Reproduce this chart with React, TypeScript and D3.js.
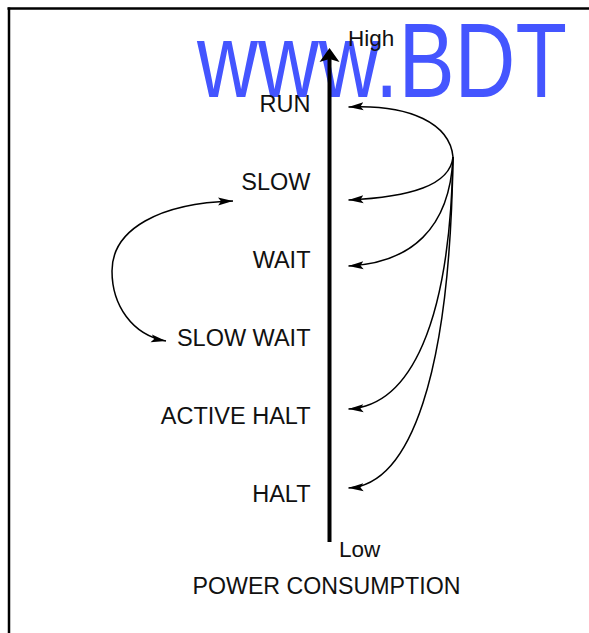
import React, { useRef, useEffect } from "react";
import * as d3 from "d3";

// power modes, from highest to lowest consumption
const modes = ["RUN", "SLOW", "WAIT", "SLOW WAIT", "ACTIVE HALT", "HALT"];
// transitions leaving RUN, and where each arrow lands relative to its label
const runTargets = ["RUN", "SLOW", "WAIT", "ACTIVE HALT", "HALT"];
const runTargetOffsets = [3, 18, 6, -7, -6];
// two-way transition on the left side
const sideLink = ["SLOW WAIT", "SLOW"];
const axisLabels = ["High", "Low"];
const axisTitle = "POWER CONSUMPTION";
const watermark = "www.BDT";

function App() {
  const svgRef = useRef<SVGSVGElement>(null);

  useEffect(() => {
    d3.select(svgRef.current).selectAll("*").remove();
    const width = 589;
    const height = 633;
    const font = "'Liberation Sans', Arial, Helvetica, sans-serif";
    const svg = d3.select(svgRef.current)
      .attr("width", width)
      .attr("height", height);

    // arrow markers
    const defs = svg.append("defs");
    const mk = (id, orient) => defs.append("marker")
      .attr("id", id)
      .attr("markerUnits", "userSpaceOnUse")
      .attr("viewBox", "0 -5 16 10")
      .attr("markerWidth", 16)
      .attr("markerHeight", 10)
      .attr("refX", 15)
      .attr("refY", 0)
      .attr("orient", orient)
      .append("path")
      .attr("d", "M0,-4L15,0L0,4L3,0Z")
      .attr("fill", "#000");
    mk("arr", "auto");
    mk("arrStart", "auto-start-reverse");

    // frame
    svg.append("line").attr("x1", 7.5).attr("x2", width).attr("y1", 8.5).attr("y2", 8.5)
      .attr("stroke", "#000").attr("stroke-width", 2.5);
    svg.append("line").attr("x1", 9).attr("x2", 9).attr("y1", 7.5).attr("y2", height)
      .attr("stroke", "#000").attr("stroke-width", 2.5);

    // watermark
    svg.append("text")
      .attr("x", 197).attr("y", 97)
      .attr("font-family", font)
      .attr("font-size", 106)
      .attr("textLength", 370)
      .attr("lengthAdjust", "spacingAndGlyphs")
      .attr("fill", "#4455ff")
      .text(watermark);

    // vertical power axis
    const axisX = 329.5;
    const y = d3.scalePoint().domain(modes).range([104, 494]);
    const axisTop = 48;
    const axisBottom = 542;

    svg.append("line")
      .attr("x1", axisX).attr("x2", axisX)
      .attr("y1", axisTop + 10).attr("y2", axisBottom)
      .attr("stroke", "#000").attr("stroke-width", 4);
    svg.append("path")
      .attr("d", `M${axisX},${axisTop}L${axisX + 10},${axisTop + 14}L${axisX},${axisTop + 11}L${axisX - 10},${axisTop + 14}Z`)
      .attr("fill", "#000");

    // mode labels
    svg.selectAll(".mode")
      .data(modes)
      .join("text")
      .attr("class", "mode")
      .attr("x", axisX - 19)
      .attr("y", d => y(d) + 8)
      .attr("text-anchor", "end")
      .attr("font-family", font)
      .attr("font-size", 23.5)
      .attr("fill", "#111")
      .text(d => d);

    svg.append("text").attr("x", 348).attr("y", 46)
      .attr("font-family", font).attr("font-size", 22.5).attr("fill", "#111")
      .text(axisLabels[0]);
    svg.append("text").attr("x", 339).attr("y", 557)
      .attr("font-family", font).attr("font-size", 22.5).attr("fill", "#111")
      .text(axisLabels[1]);
    svg.append("text").attr("x", 326.5).attr("y", 593.5)
      .attr("text-anchor", "middle")
      .attr("font-family", font).attr("font-size", 23.2).attr("fill", "#111")
      .text(axisTitle);

    // transitions from RUN, fanning out from one point on the right
    const ox = 453;
    const oy = y("RUN") + 53;
    const tipX = axisX + 19;
    runTargets.forEach((m, i) => {
      const ty = y(m) + runTargetOffsets[i];
      const p = d3.path();
      p.moveTo(ox, oy);
      p.bezierCurveTo(ox - 3, oy + (ty - oy) * 0.66, tipX + 62, ty - 3, tipX, ty);
      svg.append("path")
        .attr("d", p.toString())
        .attr("fill", "none")
        .attr("stroke", "#000")
        .attr("stroke-width", 1.5)
        .attr("marker-end", "url(#arr)");
    });

    // SLOW WAIT <-> SLOW loop on the left
    const y0 = y(sideLink[0]) + 3;
    const y1 = y(sideLink[1]) + 19;
    const lx = 112;
    const ym = y0 - 70;
    const lp = d3.path();
    lp.moveTo(166, y0);
    lp.bezierCurveTo(132, y0 - 6, lx, y0 - 36, lx, ym);
    lp.bezierCurveTo(lx, ym - 42, 160, y1 + 2, 233, y1);
    svg.append("path")
      .attr("d", lp.toString())
      .attr("fill", "none")
      .attr("stroke", "#000")
      .attr("stroke-width", 1.5)
      .attr("marker-start", "url(#arrStart)")
      .attr("marker-end", "url(#arr)");
  }, []);

  return (
    <div>
      <svg ref={svgRef} style={{ position: "absolute", left: 0, top: 0, display: "block" }}></svg>
    </div>
  );
}

export default App;
